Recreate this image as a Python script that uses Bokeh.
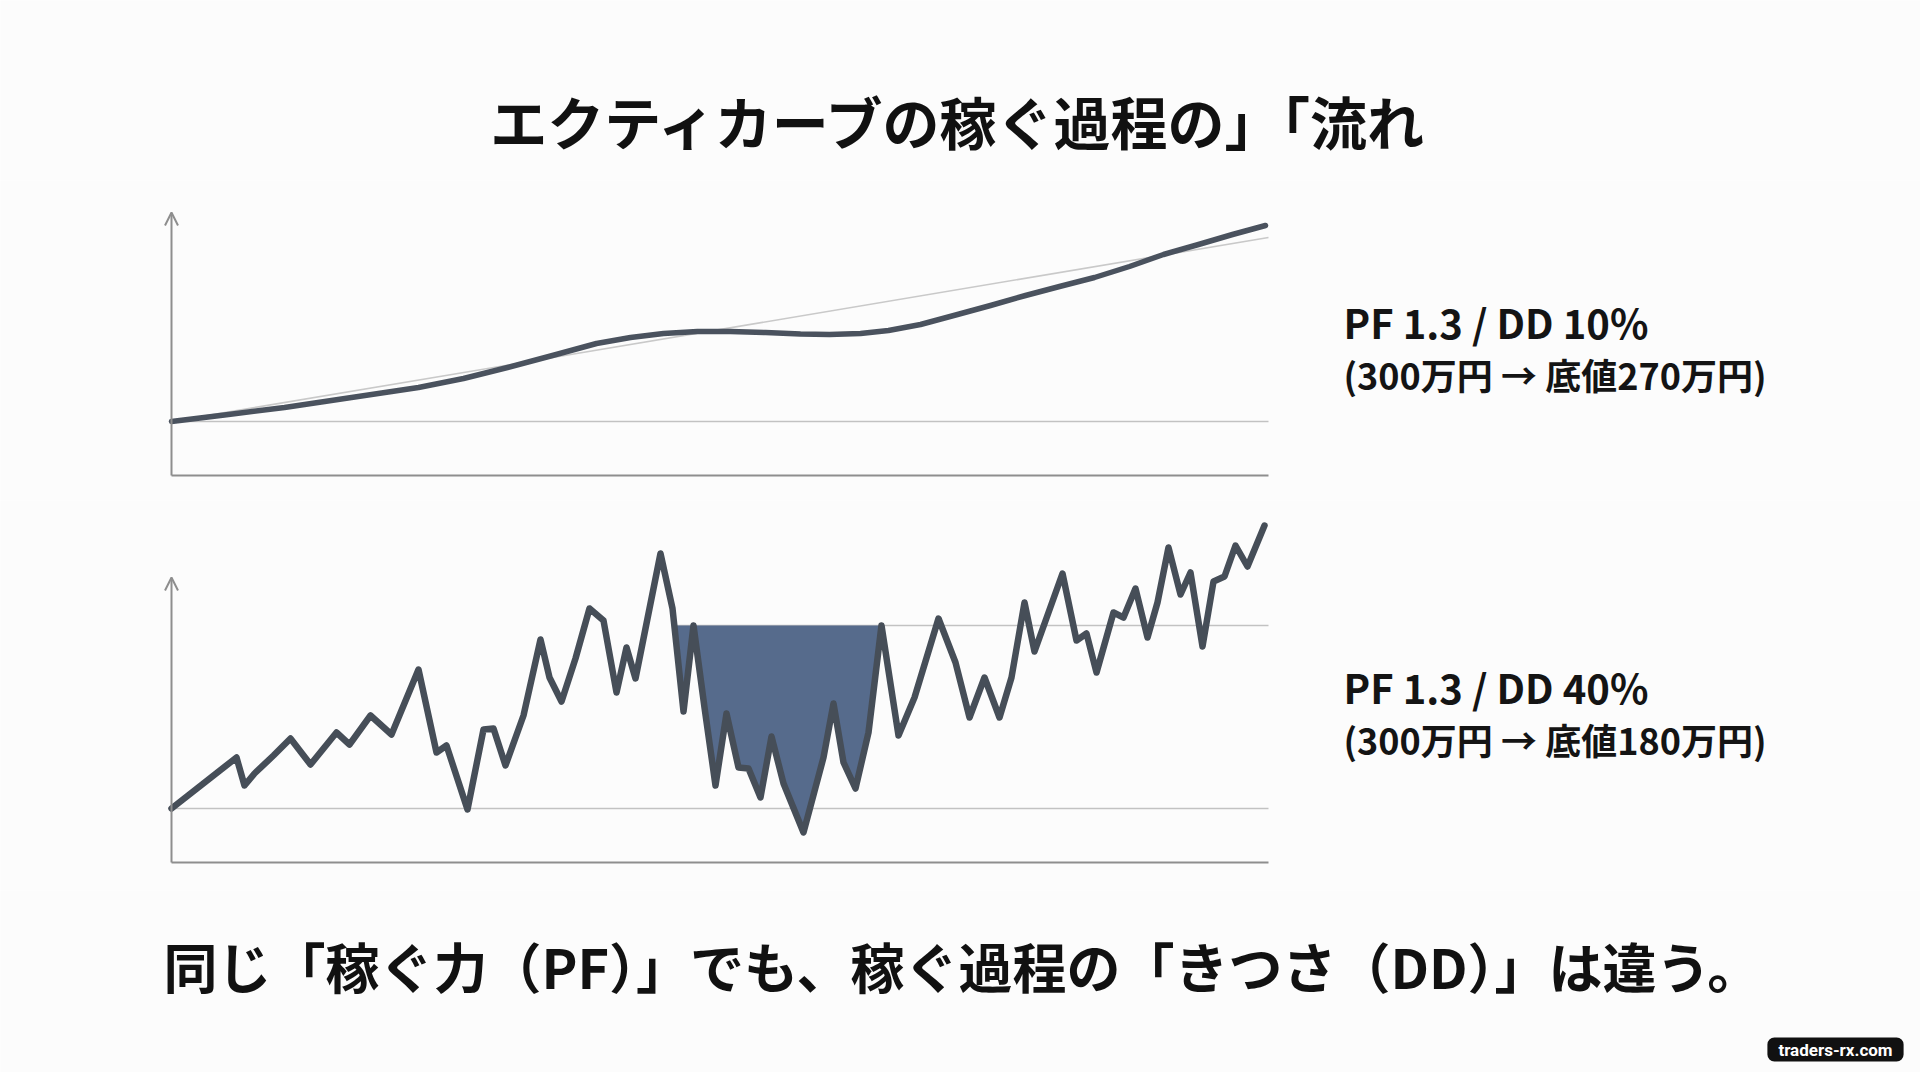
import numpy as np
from bokeh.plotting import figure
from bokeh.models import Range1d, Label, Arrow, OpenHead
from bokeh.layouts import column
from bokeh.embed import file_html
from bokeh.resources import INLINE

# ---------------- data ----------------
TITLE = "エクティカーブの稼ぐ過程の」「流れ"
FOOTER = "同じ「稼ぐ力（PF）」でも、稼ぐ過程の「きつさ（DD）」は違う。"
WATERMARK = "traders-rx.com"
TOP_LABELS = ["PF 1.3 / DD 10%", "(300万円 → 底値270万円)"]
BOT_LABELS = ["PF 1.3 / DD 40%", "(300万円 → 底値180万円)"]

# top chart: smooth equity curve (x = time, y = equity above start)
TOP_X = [0, 57, 113, 180, 247, 292, 336, 381, 425, 459, 492, 526, 559,
         594, 629, 658, 689, 717, 749, 786, 819, 854, 888, 923, 958, 992,
         1027, 1061, 1094]
TOP_Y = [0, 7, 14, 24, 34, 43, 54, 66, 78, 84, 88, 90, 90,
         89, 87.5, 87, 88, 91, 97, 107, 116, 126, 135, 144, 155, 167,
         177, 187, 196]
TREND_X = [0, 1097]
TREND_Y = [0, 184]

# bottom chart: volatile equity curve
BOT_X = [0, 65, 73, 83, 102, 119, 139, 165, 178, 199, 220, 247, 265, 275,
         296, 312, 322, 334, 352, 369, 378, 390, 404, 418, 432, 445, 455,
         464, 489, 501, 512, 522, 533, 544, 555, 567, 577, 589, 600, 612,
         632, 652, 662, 672, 684, 697, 710, 727, 743, 767, 784, 798, 813,
         828, 840, 853, 863, 891, 905, 915, 925, 942, 952, 964, 976, 986,
         997, 1009, 1019, 1031, 1042, 1053, 1064, 1076, 1093]
BOT_Y = [0, 51, 23, 35, 53, 70, 44, 76, 64, 93, 74, 139, 56, 63,
         -1, 79, 80, 43, 93, 169, 131, 107, 150, 200, 188, 116, 161,
         130, 255, 200, 97, 183, 101, 23, 95, 41, 40, 11, 72, 25,
         -24, 51, 105, 46, 20, 76, 183, 73, 111, 190, 146, 91, 131,
         91, 131, 206, 157, 235, 168, 175, 136, 196, 191, 220, 171, 206,
         261, 214, 236, 162, 227, 232, 263, 242, 283]
DD_LEVEL = 183
DD_START = 503
DD_END = 710

AXIS_X_END = 1097
AXIS_Y_MIN = -54
TOP_AXIS_TIP = 209
BOT_AXIS_TIP = 231

# ---------------- styling ----------------
BG = "#fcfcfc"
AXIS_C = "#8e8e8e"
GUIDE_C = "#c2c2c2"
LINE_C = "#464e58"
FILL_C = "#566b8c"
JP = "Noto Sans CJK JP"
W = 1920


def blank(h, xr, yr):
    p = figure(width=W, height=h, x_range=xr, y_range=yr,
               x_axis_location=None, y_axis_location=None,
               toolbar_location=None, output_backend="svg",
               min_border=0, min_border_left=0, min_border_right=0,
               min_border_top=0, min_border_bottom=0)
    p.outline_line_color = None
    p.background_fill_color = BG
    p.border_fill_color = BG
    p.grid.visible = False
    return p


def axes(p, tip):
    p.add_layout(Arrow(end=None, x_start=0, y_start=AXIS_Y_MIN,
                       x_end=AXIS_X_END, y_end=AXIS_Y_MIN,
                       line_color=AXIS_C, line_width=2))
    p.add_layout(Arrow(end=OpenHead(size=13, line_color=AXIS_C, line_width=2),
                       x_start=0, y_start=AXIS_Y_MIN, x_end=0, y_end=tip,
                       line_color=AXIS_C, line_width=2))


def labels(p, x, ys, texts):
    sizes = ["40px", "36px"]
    for y, t, s in zip(ys, texts, sizes):
        p.add_layout(Label(x=x, y=y, text=t, text_font=JP, text_font_style="bold",
                           text_font_size=s, text_color="#141414",
                           text_align="left", text_baseline="middle"))


# header
head = blank(180, Range1d(0, W), Range1d(180, 0))
head.add_layout(Label(x=960, y=119, text=TITLE, text_font=JP, text_font_style="bold",
                      text_font_size="57px", text_color="#111111",
                      text_align="center", text_baseline="middle"))

# top chart
top = blank(320, Range1d(-171, W - 171), Range1d(-79, 241))
axes(top, TOP_AXIS_TIP)
top.line([0, AXIS_X_END], [0, 0], line_color=GUIDE_C, line_width=1.6)
top.line(TREND_X, TREND_Y, line_color="#c9c9c9", line_width=1.6)
top.line(TOP_X, TOP_Y, line_color="#4a525e", line_width=5.5, line_cap="round",
         line_join="round")
labels(top, 1172, [100, 48], TOP_LABELS)

# bottom chart
bot = blank(390, Range1d(-171, W - 171), Range1d(-82, 308))
axes(bot, BOT_AXIS_TIP)
bot.line([0, AXIS_X_END], [0, 0], line_color=GUIDE_C, line_width=1.6)
bot.line([DD_START, AXIS_X_END], [DD_LEVEL, DD_LEVEL], line_color=GUIDE_C, line_width=1.6)
bx = np.array(BOT_X, dtype=float)
by = np.array(BOT_Y, dtype=float)
inner = bx[(bx > DD_START) & (bx < DD_END)]
fx = np.concatenate([[DD_START], inner, [DD_END]])
fy = np.interp(fx, bx, by)
bot.varea(x=fx, y1=fy, y2=DD_LEVEL, fill_color=FILL_C, fill_alpha=1.0)
bot.line(BOT_X, BOT_Y, line_color=LINE_C, line_width=6.5, line_cap="round",
         line_join="round")
labels(bot, 1172, [122, 70], BOT_LABELS)

# footer
foot = blank(182, Range1d(0, W), Range1d(182, 0))
foot.add_layout(Label(x=163, y=75, text=FOOTER, text_font=JP, text_font_style="bold",
                      text_font_size="54px", text_color="#111111",
                      text_align="left", text_baseline="middle"))
foot.add_layout(Label(x=1835, y=159, text=WATERMARK, text_font="Roboto",
                      text_font_style="bold", text_font_size="17px",
                      text_color="#ffffff", text_align="center", text_baseline="middle",
                      background_fill_color="#111111", border_radius=7,
                      padding=(11, 2)))

layout = column(head, top, bot, foot, spacing=0)
open("out.html", "w").write(file_html(layout, INLINE))
